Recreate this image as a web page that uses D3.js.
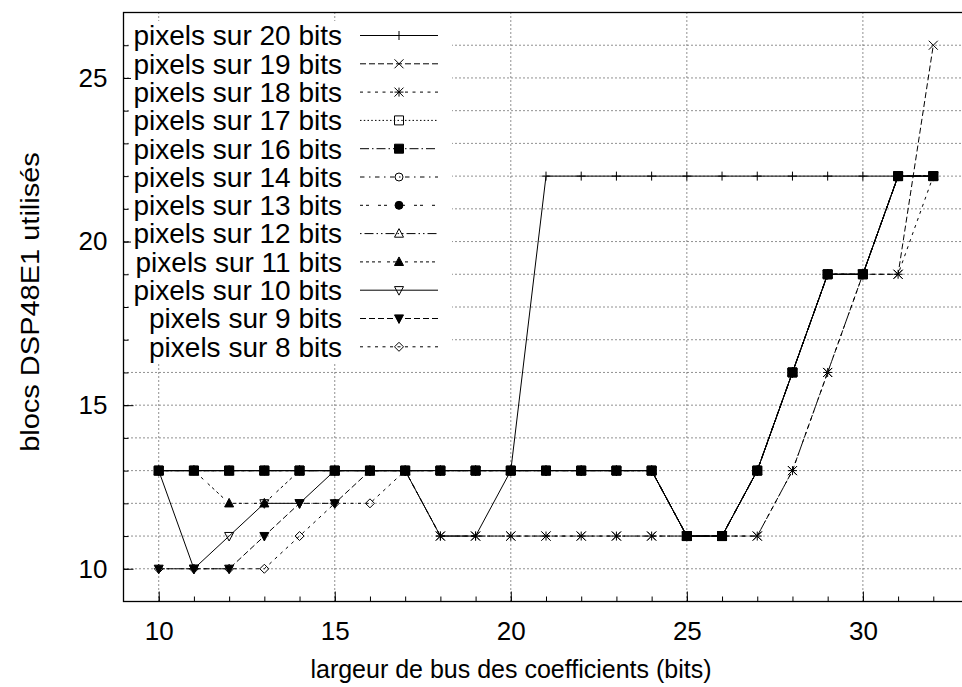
<!DOCTYPE html>
<html><head><meta charset="utf-8">
<script src="https://cdn.jsdelivr.net/npm/d3@7"></script>
<style>body{margin:0;background:#fff} svg{display:block}</style>
</head><body>
<svg id="c" width="962" height="687"></svg>
<script>
// ---- data ----
const xValues = [10,11,12,13,14,15,16,17,18,19,20,21,22,23,24,25,26,27,28,29,30,31,32];
const seriesLabels = ["pixels sur 20 bits","pixels sur 19 bits","pixels sur 18 bits","pixels sur 17 bits",
  "pixels sur 16 bits","pixels sur 14 bits","pixels sur 13 bits","pixels sur 12 bits",
  "pixels sur 11 bits","pixels sur 10 bits","pixels sur 9 bits","pixels sur 8 bits"];
const p20 = [13,13,13,13,13,13,13,13,11,11,13,22,22,22,22,22,22,22,22,22,22,22,22];
const p19 = [13,13,13,13,13,13,13,13,11,11,11,11,11,11,11,11,11,11,13,16,19,19,26];
const p18 = [13,13,13,13,13,13,13,13,11,11,11,11,11,11,11,11,11,11,13,16,19,19,22];
const p17 = [13,13,13,13,13,13,13,13,13,13,13,13,13,13,13,11,11,13,16,19,19,22,22];
const p16 = [13,13,13,13,13,13,13,13,13,13,13,13,13,13,13,11,11,13,16,19,19,22,22];
const p14 = [13,13,13,13,13,13,13,13,13,13,13,13,13,13,13,11,11,13,16,19,19,22,22];
const p13 = [13,13,13,13,13,13,13,13,13,13,13,13,13,13,13,11,11,13,16,19,19,22,22];
const p12 = [13,13,13,13,13,13,13,13,13,13,13,13,13,13,13,11,11,13,16,19,19,22,22];
const p11 = [13,13,12,12,13,13,13,13,13,13,13,13,13,13,13,11,11,13,16,19,19,22,22];
const p10 = [13,10,11,12,12,13,13,13,13,13,13,13,13,13,13,11,11,13,16,19,19,22,22];
const p9  = [10,10,10,11,12,12,13,13,13,13,13,13,13,13,13,11,11,13,16,19,19,22,22];
const p8  = [10,10,10,10,11,12,12,13,13,13,13,13,13,13,13,11,11,13,16,19,19,22,22];
const seriesValues = [p20,p19,p18,p17,p16,p14,p13,p12,p11,p10,p9,p8];
const xTickValues = [10,15,20,25,30];
const yTickValues = [10,15,20,25];
const xTitle = "largeur de bus des coefficients (bits)";
const yTitle = "blocs DSP48E1 utilisés";

// ---- styles (gnuplot-like) ----
const dashPatterns = ["", "6,3", "3,4.5", "1.5,2.25", "9,3,1.5,3", "4.5,4.5,1.5,4.5", "3,3,3,9",
  "1.5,3,9,3,1.5,3", "3,3,3,3,3,3,3,6"];
const markerTypes = ["plus","cross","star","square","fsquare","circle","fcircle","tri","ftri","tridown","ftridown","diamond"];

const svg = d3.select("#c");
const x = d3.scaleLinear().domain([9,33]).range([123.5,968.5]);
const y = d3.scaleLinear().domain([9,27]).range([601.5,12.5]);
const FONT = "Liberation Sans, Arial, Helvetica, sans-serif";

// grid
const grid = svg.append("g").attr("stroke","#222").attr("stroke-width",1).attr("stroke-dasharray","1,3");
grid.selectAll(".gx").data(xTickValues).join("line")
  .attr("x1",d=>x(d)).attr("x2",d=>x(d)).attr("y1",y(9)).attr("y2",y(27));
grid.selectAll(".gy").data(d3.range(10,27)).join("line")
  .attr("x1",x(9)).attr("x2",x(33)).attr("y1",d=>y(d)).attr("y2",d=>y(d));

// axes
const axMinorX = svg.append("g").attr("transform",`translate(0,${y(9)})`)
  .call(d3.axisBottom(x).tickValues(xValues).tickSize(-5).tickFormat(""));
const axMajorX = svg.append("g").attr("transform",`translate(0,${y(9)})`)
  .call(d3.axisBottom(x).tickValues(xTickValues).tickSize(-10).tickPadding(20).tickFormat(d3.format("d")));
const axMinorY = svg.append("g").attr("transform",`translate(${x(9)},0)`)
  .call(d3.axisLeft(y).tickValues(d3.range(10,27)).tickSize(-5).tickFormat(""));
const axMajorY = svg.append("g").attr("transform",`translate(${x(9)},0)`)
  .call(d3.axisLeft(y).tickValues(yTickValues).tickSize(-10).tickPadding(16).tickFormat(d3.format("d")));
[axMinorX,axMajorX,axMinorY,axMajorY].forEach(a=>{
  a.select(".domain").remove();
  a.selectAll("line").attr("stroke","#000");
  a.selectAll("text").attr("font-family",FONT).attr("font-size",26).attr("fill","#000");
});

// frame
svg.append("rect").attr("x",x(9)).attr("y",y(27)).attr("width",x(33)-x(9)).attr("height",y(9)-y(27))
  .attr("fill","none").attr("stroke","#000").attr("stroke-width",1.3);

// titles
svg.append("text").attr("x",511).attr("y",678).attr("text-anchor","middle")
  .attr("font-family",FONT).attr("font-size",25).text(xTitle);
svg.append("text").attr("transform",`translate(39,302) rotate(-90) scale(1,0.9)`).attr("text-anchor","middle")
  .attr("font-family",FONT).attr("font-size",29).text(yTitle);

// markers
function markerPath(t){
  const s=4.5;
  switch(t){
    case "plus": return `M${-s},0H${s}M0,${-s}V${s}`;
    case "cross": return `M${-s},${-s}L${s},${s}M${-s},${s}L${s},${-s}`;
    case "star": return `M${-s},0H${s}M0,${-s}V${s}M${-s},${-s}L${s},${s}M${-s},${s}L${s},${-s}`;
    case "square": case "fsquare": return `M${-s},${-s}H${s}V${s}H${-s}Z`;
    case "tri": case "ftri": return `M0,${-s*1.1}L${s},${s*0.8}L${-s},${s*0.8}Z`;
    case "tridown": case "ftridown": return `M0,${s*1.1}L${s},${-s*0.8}L${-s},${-s*0.8}Z`;
    case "diamond": return `M0,${-s}L${s},0L0,${s}L${-s},0Z`;
  }
  return "";
}
function drawMarker(g,t,cx,cy){
  const filled = t[0]==="f";
  if(t==="circle"||t==="fcircle"){
    g.append("circle").attr("cx",cx).attr("cy",cy).attr("r",4)
      .attr("fill",filled?"#000":"none").attr("stroke","#000").attr("stroke-width",1);
  } else {
    g.append("path").attr("transform",`translate(${cx},${cy})`).attr("d",markerPath(t))
      .attr("fill",filled?"#000":"none").attr("stroke","#000").attr("stroke-width",1);
  }
}

const plot = svg.append("g");
const line = d3.line().x((d,i)=>x(xValues[i])).y(d=>y(d));
seriesValues.forEach((vals,k)=>{
  const g = plot.append("g");
  g.append("path").attr("d",line(vals)).attr("fill","none").attr("stroke","#000")
    .attr("stroke-width",1).attr("stroke-dasharray",dashPatterns[k%9]||null);
  vals.forEach((v,i)=>drawMarker(g,markerTypes[k],x(xValues[i]),y(v)));
});

// legend (opaque box)
const lg = svg.append("g");
lg.append("rect").attr("x",131).attr("y",21).attr("width",321).attr("height",341).attr("fill","#fff");
seriesLabels.forEach((lab,k)=>{
  const ry = 35.5 + k*28.3;
  lg.append("text").attr("x",342).attr("y",ry).attr("dy","0.35em").attr("text-anchor","end")
    .attr("font-family",FONT).attr("font-size",28).text(lab);
  lg.append("line").attr("x1",360).attr("x2",438).attr("y1",ry).attr("y2",ry)
    .attr("stroke","#000").attr("stroke-width",1).attr("stroke-dasharray",dashPatterns[k%9]||null);
  drawMarker(lg,markerTypes[k],399,ry);
});
</script>
</body></html>
